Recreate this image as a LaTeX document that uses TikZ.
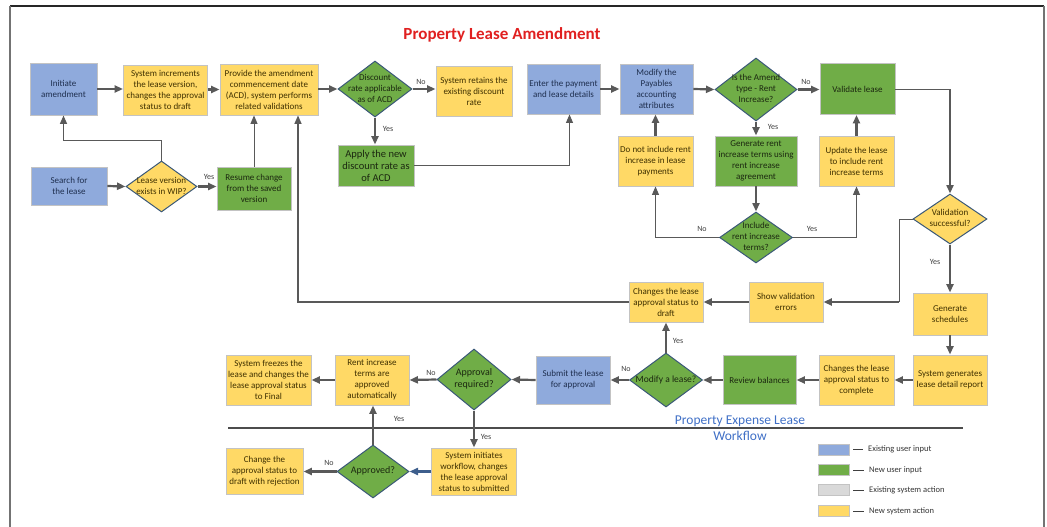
\documentclass[tikz,border=0pt]{standalone}
\usepackage{fontspec}
\setmainfont{Carlito}
\usetikzlibrary{arrows.meta,shapes.geometric}

\definecolor{cblue}{HTML}{8FAADC}
\definecolor{cgreen}{HTML}{70AD47}
\definecolor{cyellow}{HTML}{FFD966}
\definecolor{cgray}{HTML}{D9D9D9}
\definecolor{boxline}{HTML}{C3C3C3}
\definecolor{decline}{HTML}{3A5878}
\definecolor{arrowc}{HTML}{595959}
\definecolor{tblue}{HTML}{1F2F4F}
\definecolor{tgreen}{HTML}{1B2810}
\definecolor{tyellow}{HTML}{3F3000}
\definecolor{titlered}{HTML}{E02020}
\definecolor{lanetext}{HTML}{3F6FC6}
\definecolor{flowblue}{HTML}{3D5E8C}

% decision text: centred, takes no room so the diamond keeps its set size
\newcommand\dtext[1]{\smash{\raisebox{-2.2pt}{\makebox[0pt]{\begin{tabular}{@{}c@{}}#1\end{tabular}}}}}

\tikzset{
  sz/.style 2 args={minimum width=#1pt, minimum height=#2pt},
  box/.style={rectangle, draw=boxline, line width=0.9pt, inner sep=1pt, align=center,
              font=\fontsize{9}{11}\selectfont},
  bluebox/.style={box, fill=cblue, text=tblue},
  greenbox/.style={box, fill=cgreen, text=tgreen},
  yellowbox/.style={box, fill=cyellow, text=tyellow},
  dec/.style={diamond, draw=decline, line width=1pt, inner sep=0pt,
              font=\fontsize{9}{11}\selectfont},
  greendec/.style={dec, fill=cgreen, text=tgreen},
  yellowdec/.style={dec, fill=cyellow, text=tyellow},
  tip/.style={-{Triangle[length=8.5pt,width=7pt]}},
  flow/.style={draw=arrowc, line width=2.2pt, tip},
  flowmid/.style={draw=arrowc, line width=1.4pt, tip},
  flowthin/.style={draw=arrowc, line width=1pt, tip},
  wire/.style={draw=arrowc, line width=1pt},
  lbl/.style={font=\fontsize{8}{9}\selectfont, text=black!75, inner sep=0pt},
  legsw/.style={draw=boxline, line width=0.9pt, minimum width=31pt, minimum height=11pt, inner sep=0pt},
  legtext/.style={font=\fontsize{8.5}{10}\selectfont, text=black!80, inner sep=0pt, anchor=west},
  legdash/.style={draw=black!75, line width=1pt},
}

\begin{document}
\begin{tikzpicture}[x=1pt,y=-1pt]
\useasboundingbox (0,0) rectangle (1047,527);

% page frame
\draw[black!85, line width=1.3pt] (10,6) -- (1044,6);
\draw[black!55, line width=2pt] (10,6) -- (10,527);
\draw[black!55, line width=2pt] (1044,6) -- (1044,527);

\node[font=\fontsize{17}{19}\selectfont\bfseries, text=titlered] (title) at (502,35) {Property Lease Amendment};

% ---- top row
\node[bluebox, sz={67}{52}] (init) at (63.5,89) {Initiate\\amendment};
\node[yellowbox, sz={84}{50}] (sysinc) at (165.5,90) {System increments\\the lease version,\\changes the approval\\status to draft};
\node[yellowbox, sz={98}{51}] (provide) at (269,89.5) {Provide the amendment\\commencement date\\(ACD), system performs\\related validations};
\node[greendec, sz={74}{56}] (disc) at (375,89) {\dtext{Discount\\rate applicable\\as of ACD}};
\node[yellowbox, sz={76}{50}] (retain) at (474,91) {System retains the\\existing discount\\rate};
\node[bluebox, sz={73}{50}] (enter) at (563.5,89) {Enter the payment\\and lease details};
\node[bluebox, sz={73}{50}] (modpay) at (656.5,89) {Modify the\\Payables\\accounting\\attributes};
\node[greendec, sz={82}{63}] (amend) at (756,89.5) {\dtext{Is the Amend\\type - Rent\\Increase?}};
\node[greenbox, sz={75}{51}] (validate) at (857.5,89) {Validate lease};

% ---- second row
\node[bluebox, sz={76}{38}] (search) at (69,186) {Search for\\the lease};
\node[yellowdec, sz={71}{51}] (wip) at (161.5,186.5) {\dtext{Lease version\\exists in WIP?}};
\node[greenbox, sz={74}{43}] (resume) at (254,188.5) {Resume change\\from the saved\\version};
\node[greenbox, sz={76}{41}, font=\fontsize{10.5}{12}\selectfont] (apply) at (376,165.5) {Apply the new\\discount rate as\\of ACD};
\node[yellowbox, sz={75}{50}] (donot) at (655.5,161) {Do not include rent\\increase in lease\\payments};
\node[greenbox, sz={82}{50}] (genrent) at (756,161) {Generate rent\\increase terms using\\rent increase\\agreement};
\node[yellowbox, sz={75}{50}] (update) at (856.5,161) {Update the lease\\to include rent\\increase terms};
\node[greendec, sz={73}{51}] (include) at (756,237.5) {\dtext{Include\\rent increase\\terms?}};
\node[yellowdec, sz={74}{50}] (valid) at (950,219) {\dtext{Validation\\successful?}};

% ---- third row
\node[yellowbox, sz={74}{40}] (todraft) at (666,302) {Changes the lease\\approval status to\\draft};
\node[yellowbox, sz={74}{40}] (showerr) at (786,302) {Show validation\\errors};
\node[yellowbox, sz={74}{42}] (gensched) at (950,314) {Generate\\schedules};

% ---- fourth row
\node[yellowbox, sz={74}{50}] (report) at (950,380) {System generates\\lease detail report};
\node[yellowbox, sz={75}{50}] (complete) at (856.5,380) {Changes the lease\\approval status to\\complete};
\node[greenbox, sz={73}{49}] (review) at (759.5,380) {Review balances};
\node[greendec, sz={73}{54}, font=\fontsize{9.5}{11}\selectfont] (modlease) at (666,380) {\dtext{Modify a lease?}};
\node[bluebox, sz={74}{48}] (submit) at (573,380) {Submit the lease\\for approval};
\node[greendec, sz={74}{61}, font=\fontsize{10}{12}\selectfont] (appreq) at (474,379.5) {\dtext{Approval\\required?}};
\node[yellowbox, sz={74}{50}] (rentauto) at (372,380) {Rent increase\\terms are\\approved\\automatically};
\node[yellowbox, sz={85}{50}] (freeze) at (268.5,380) {System freezes the\\lease and changes the\\lease approval status\\to Final};

% ---- workflow lane
\draw[black!70, line width=1.3pt] (228,428) -- (963,428);
\node[font=\fontsize{13.5}{16}\selectfont, text=lanetext, align=center] (lane) at (740,428) {Property Expense Lease\\Workflow};

\node[yellowbox, sz={85}{47}] (initwf) at (474,471.5) {System initiates\\workflow, changes\\the lease approval\\status to submitted};
\node[greendec, sz={72}{53}, font=\fontsize{10}{12}\selectfont] (approved) at (373,471.5) {\dtext{Approved?}};
\node[yellowbox, sz={77}{46}] (reject) at (264.5,471.5) {Change the\\approval status to\\draft with rejection};

% ---- connectors
\draw[flow] (init.east) -- (sysinc.west |- init.east);
\draw[flow] (sysinc.east |- provide.west) -- (provide.west);
\draw[flow] (provide.east |- disc.west) -- (disc.west);
\draw[flow] (disc.east) -- (retain.west |- disc.east);
\draw[flow] (disc.south) -- (apply.north -| disc.south);
\draw[flowthin] (apply.east) -| ([xshift=6pt]enter.south);
\draw[flow] (enter.east) -- (modpay.west);
\draw[flow] (modpay.east) -- (amend.west);
\draw[flow] (amend.east) -- (validate.west |- amend.east);
\draw[flow] (amend.south) -- (genrent.north);
\draw[flow] (genrent.south) -- (include.north);
\draw[flowthin] (include.west) -| (donot.south);
\draw[flowthin] (include.east) -| (update.south);
\draw[flow] (donot.north) -- (modpay.south -| donot.north);
\draw[flow] (update.north) -- (validate.south -| update.north);

\coordinate (vcorner) at (valid.north |- validate.east);
\draw[wire] (validate.east) -- (vcorner);
\draw[flow] (vcorner) -- (valid.north);

\coordinate (ecorner) at (899,302);
\draw[wire] (valid.west) -| (ecorner);
\draw[flow] (ecorner) -- (showerr.east);
\draw[flow] (showerr.west) -- (todraft.east);
\draw[flowmid] (todraft.west) -| ([xshift=29pt]provide.south);

\draw[flow] (valid.south) -- (gensched.north);
\draw[flow] (gensched.south) -- (report.north);
\draw[flow] (report.west) -- (complete.east);
\draw[flow] (complete.west) -- (review.east);
\draw[flow] (review.west) -- (modlease.east);
\draw[flow] (modlease.north) -- (todraft.south);
\draw[flow] (modlease.west) -- (submit.east);
\draw[flow] (submit.west) -- (appreq.east);
\draw[flow] (appreq.west) -- (rentauto.east);
\draw[flow] (rentauto.west) -- (freeze.east);
\draw[flow] (appreq.south) -- (initwf.north);
\draw[flow, draw=flowblue] (initwf.west) -- (approved.east);
\draw[flow] (approved.west) -- (reject.east |- approved.west);
\draw[flow] (approved.north) -- (rentauto.south -| approved.north);

\draw[flow] (search.east) -- (wip.west);
\draw[flow] (wip.east) -- (resume.west |- wip.east);
\draw[flowmid] (wip.north) |- ([yshift=-25pt]init.south) -- (init.south);
\draw[flowthin] (resume.north) -- (resume.north |- provide.south);

% ---- branch labels
\node[lbl] (y1) at (209,177) {Yes};
\node[lbl] (n1) at (421,82) {No};
\node[lbl] (y2) at (388,129) {Yes};
\node[lbl] (n2) at (806,82) {No};
\node[lbl] (y3) at (773,127) {Yes};
\node[lbl] (n3) at (702,229) {No};
\node[lbl] (y4) at (812,229) {Yes};
\node[lbl] (y5) at (935,262) {Yes};
\node[lbl] (y6) at (678,341) {Yes};
\node[lbl] (n4) at (626,369) {No};
\node[lbl] (n5) at (431,373) {No};
\node[lbl] (y7) at (486,437) {Yes};
\node[lbl] (n6) at (329,463) {No};
\node[lbl] (y8) at (399,419) {Yes};

% ---- legend
\node[legsw, fill=cblue] (sw1) at (833.5,449.5) {};
\node[legsw, fill=cgreen] (sw2) at (833.5,470) {};
\node[legsw, fill=cgray] (sw3) at (833.5,490) {};
\node[legsw, fill=cyellow] (sw4) at (833.5,511) {};
\node[legtext] (lt1) at (868,449.5) {Existing user input};
\node[legtext] (lt2) at (869,470) {New user input};
\node[legtext] (lt3) at (869,490) {Existing system action};
\node[legtext] (lt4) at (869,511) {New system action};
\draw[legdash] ([xshift=4pt]sw1.east) -- ([xshift=-5pt]lt1.west);
\draw[legdash] ([xshift=4pt]sw2.east) -- ([xshift=-5pt]lt2.west);
\draw[legdash] ([xshift=4pt]sw3.east) -- ([xshift=-5pt]lt3.west);
\draw[legdash] ([xshift=4pt]sw4.east) -- ([xshift=-5pt]lt4.west);
\end{tikzpicture}
\end{document}
